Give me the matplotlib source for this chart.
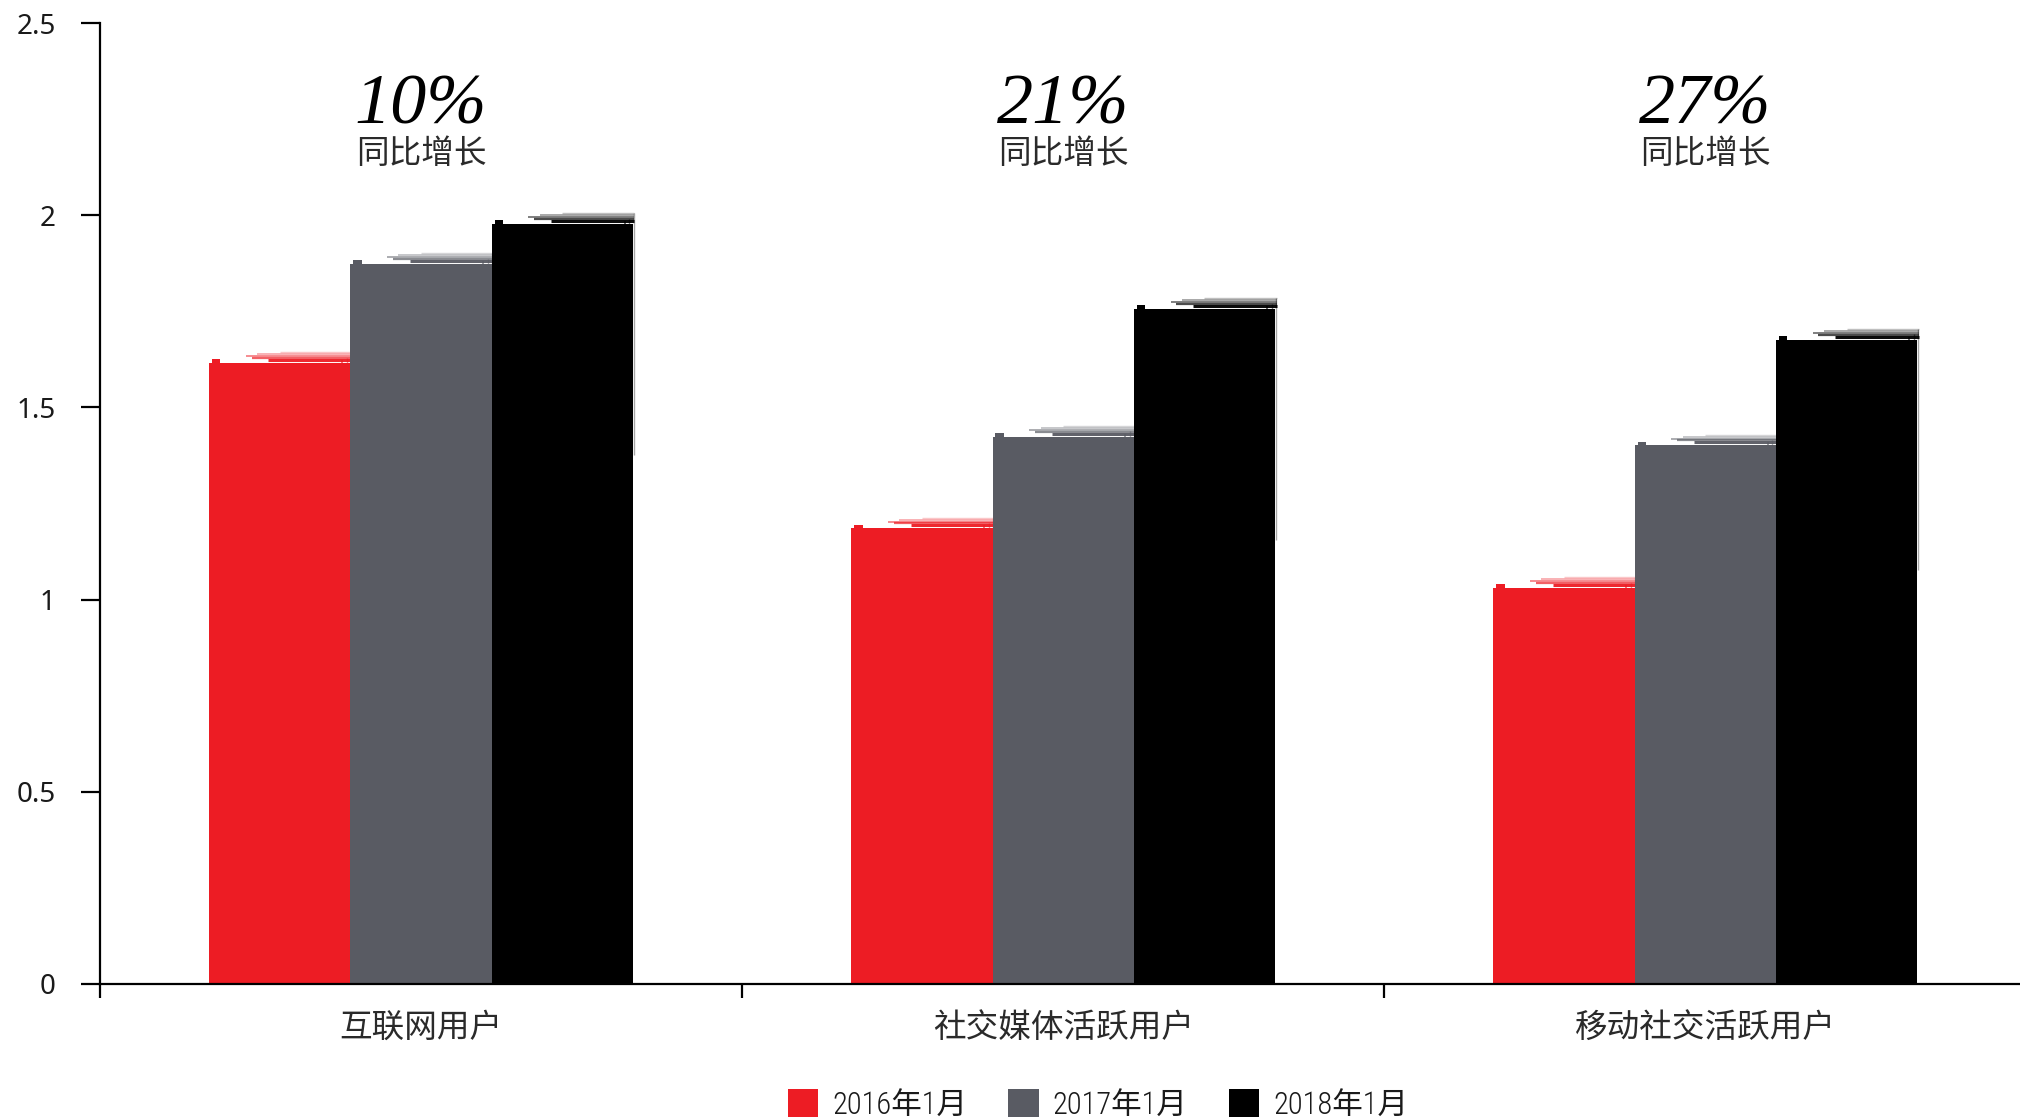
import numpy as np
import matplotlib.pyplot as plt
from matplotlib.patches import Patch

plt.rcParams['font.family'] = ['Noto Sans CJK SC', 'DejaVu Sans']
fonte_num = ['Roboto Condensed', 'Noto Sans CJK SC']
fonte_eixo = ['Noto Sans', 'Noto Sans CJK SC']

# Dados
categorias = ['互联网用户', '社交媒体活跃用户', '移动社交活跃用户']
anos = ['2016年1月', '2017年1月', '2018年1月']
valores_2016 = [1.615, 1.185, 1.03]
valores_2017 = [1.873, 1.424, 1.401]
valores_2018 = [1.977, 1.756, 1.676]
crescimento = ['10%', '21%', '27%']
cores = ['#ed1c24', '#595b63', '#000000']

series = [valores_2016, valores_2017, valores_2018]
x = np.arange(len(categorias))
largura = 0.22


def pincelada(ax, esquerda, w, h, cor):
    # riscos finos por cima e na lateral direita, imitando traco de pincel
    riscos = [(0.008, 0.42, 0.95, 2.2), (0.013, 0.30, 0.70, 1.6),
              (0.018, 0.26, 0.50, 1.4), (0.023, 0.34, 0.40, 1.2),
              (0.028, 0.50, 0.25, 1.0)]
    for dy, ini, alfa, lw in riscos:
        ax.plot([esquerda + ini * w, esquerda + w * 1.01], [h + dy, h + dy],
                color=cor, alpha=alfa, lw=lw, solid_capstyle='butt', zorder=2)
    laterais = [(0.94, 0.008, 0.22, 0.7, 1.2), (0.975, 0.014, 0.35, 0.5, 1.0),
                (1.005, 0.028, 0.60, 0.35, 1.0)]
    for fx, dy, prof, alfa, lw in laterais:
        ax.plot([esquerda + fx * w, esquerda + fx * w], [h + dy, h - prof],
                color=cor, alpha=alfa, lw=lw, solid_capstyle='butt', zorder=2)
    # pequena saliencia no canto esquerdo
    ax.bar(esquerda + 0.02 * w, 0.012, width=0.06 * w, bottom=h - 0.002,
           align='edge', color=cor, linewidth=0, zorder=2)


fig = plt.figure(figsize=(20.2, 11.2), dpi=100)
ax = fig.add_axes([100 / 2020, 136 / 1120, 1 - 100 / 2020, 961 / 1120])

for i, (vals, cor) in enumerate(zip(series, cores)):
    pos = x + (i - 1) * largura
    ax.bar(pos, vals, width=largura, color=cor, linewidth=0, zorder=2)
    for p, v in zip(pos, vals):
        pincelada(ax, p - largura / 2, largura, v, cor)

# Textos de crescimento
for i, txt in enumerate(crescimento):
    ax.text(x[i], 2.283, txt, ha='center', va='center', fontsize=52,
            family='Liberation Serif', style='italic', color='black')
    ax.text(x[i], 2.158, '同比增长', ha='center', va='center', fontsize=23.5,
            fontweight='light', color='#2a2a2a')

# Eixos
ax.set_xlim(-0.5, 2.49)
ax.set_ylim(0, 2.5)
ax.spines['top'].set_visible(False)
ax.spines['right'].set_visible(False)
ax.spines['left'].set_linewidth(1.6)
ax.spines['bottom'].set_linewidth(1.6)

ax.set_yticks([0, 0.5, 1, 1.5, 2, 2.5])
ax.set_yticklabels(['0', '0.5', '1', '1.5', '2', '2.5'], fontsize=20,
                   family=fonte_eixo, fontweight='light', color='#1a1a1a')
ax.tick_params(axis='y', length=14, width=1.6, pad=18)

ax.set_xticks([-0.5, 0.5, 1.5])
ax.set_xticklabels([])
ax.tick_params(axis='x', which='major', length=10, width=1.6)
ax.set_xticks(x, minor=True)
ax.set_xticklabels(categorias, minor=True, fontsize=23.5, fontweight='light',
                   color='#2a2a2a')
ax.tick_params(axis='x', which='minor', length=0, pad=20)

# Legenda
handles = [Patch(facecolor=c, edgecolor='none') for c in cores]
leg = fig.legend(handles, anos, loc='center', bbox_to_anchor=(0.5435, 0.014), ncol=3,
                 frameon=False, handlelength=1.0, handleheight=1.0,
                 handletextpad=0.45, columnspacing=1.35, borderpad=0,
                 prop={'family': fonte_num, 'weight': 'light', 'size': 22})
for t in leg.get_texts():
    t.set_color('#1a1a1a')

plt.savefig('out.png', dpi=100)
